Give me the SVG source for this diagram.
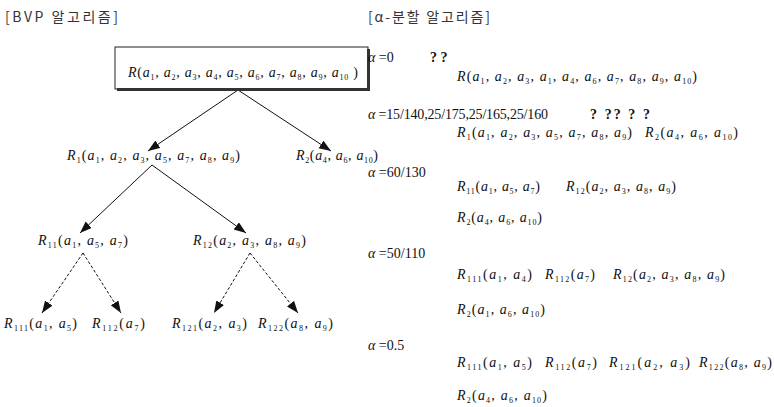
<svg xmlns="http://www.w3.org/2000/svg" width="774" height="407" viewBox="0 0 774 407">
<style>
.k{font-family:"Noto Sans CJK KR","Noto Sans",sans-serif;font-size:14px;fill:#333}
.m{font-family:"Liberation Serif",serif;font-style:italic;font-size:14px;fill:#111}
.s{font-size:8px;font-style:normal;baseline-shift:-3px}
.u{font-style:normal}
.g{font-family:"Liberation Serif",serif;font-size:14px;fill:#111}
.c{stroke:#111;stroke-width:1;fill:none}
.d{stroke:#111;stroke-width:1;fill:none;stroke-dasharray:3,2}
</style>
<defs>
<marker id="ah" markerUnits="userSpaceOnUse" markerWidth="13" markerHeight="10" refX="12" refY="4.5" orient="auto">
<path d="M0,0 L12,4.5 L0,9 z" fill="#111"/>
</marker>
</defs>
<rect width="774" height="407" fill="#fff"/>

<text class="k" x="5" y="22" textLength="113" lengthAdjust="spacing">[BVP 알고리즘]</text>
<text class="k" x="368" y="22" textLength="122" lengthAdjust="spacing">[α-분할 알고리즘]</text>

<g id="connectors">
<line class="c" x1="238" y1="90" x2="148" y2="151" marker-end="url(#ah)"/>
<line class="c" x1="238" y1="90" x2="331" y2="151" marker-end="url(#ah)"/>
<line class="c" x1="152" y1="165" x2="80" y2="233" marker-end="url(#ah)"/>
<line class="c" x1="152" y1="165" x2="246" y2="233" marker-end="url(#ah)"/>
<line class="d" x1="83" y1="253" x2="42" y2="313" marker-end="url(#ah)"/>
<line class="d" x1="83" y1="253" x2="121" y2="313" marker-end="url(#ah)"/>
<line class="d" x1="250" y1="253" x2="214" y2="313" marker-end="url(#ah)"/>
<line class="d" x1="250" y1="253" x2="298" y2="313" marker-end="url(#ah)"/>
</g>

<g id="root">
<rect x="115" y="47" width="253" height="42" fill="#fff" stroke="#222" stroke-width="1"/>
<rect x="117" y="88" width="253" height="3" fill="#333"/>
<rect x="367" y="49" width="3" height="42" fill="#333"/>
<text class="m" x="128" y="77" textLength="230" lengthAdjust="spacing">R<tspan class="u">(</tspan>a<tspan class="s">1</tspan><tspan class="u">, </tspan>a<tspan class="s">2</tspan><tspan class="u">, </tspan>a<tspan class="s">3</tspan><tspan class="u">, </tspan>a<tspan class="s">4</tspan><tspan class="u">, </tspan>a<tspan class="s">5</tspan><tspan class="u">, </tspan>a<tspan class="s">6</tspan><tspan class="u">, </tspan>a<tspan class="s">7</tspan><tspan class="u">, </tspan>a<tspan class="s">8</tspan><tspan class="u">, </tspan>a<tspan class="s">9</tspan><tspan class="u">, </tspan>a<tspan class="s">10</tspan><tspan class="u"> )</tspan></text>
</g>

<g id="r1">
<text class="m" x="67" y="160" textLength="173" lengthAdjust="spacing">R<tspan class="s">1</tspan><tspan class="u">(</tspan>a<tspan class="s">1</tspan><tspan class="u">, </tspan>a<tspan class="s">2</tspan><tspan class="u">, </tspan>a<tspan class="s">3</tspan><tspan class="u">, </tspan>a<tspan class="s">5</tspan><tspan class="u">, </tspan>a<tspan class="s">7</tspan><tspan class="u">, </tspan>a<tspan class="s">8</tspan><tspan class="u">, </tspan>a<tspan class="s">9</tspan><tspan class="u">)</tspan></text>
</g>
<g id="r2">
<text class="m" x="296" y="160" textLength="82" lengthAdjust="spacing">R<tspan class="s">2</tspan><tspan class="u">(</tspan>a<tspan class="s">4</tspan><tspan class="u">, </tspan>a<tspan class="s">6</tspan><tspan class="u">, </tspan>a<tspan class="s">10</tspan><tspan class="u">)</tspan></text>
</g>
<g id="r11">
<text class="m" x="38" y="245" textLength="90" lengthAdjust="spacing">R<tspan class="s">11</tspan><tspan class="u">(</tspan>a<tspan class="s">1</tspan><tspan class="u">, </tspan>a<tspan class="s">5</tspan><tspan class="u">, </tspan>a<tspan class="s">7</tspan><tspan class="u">)</tspan></text>
</g>
<g id="r12">
<text class="m" x="193" y="245" textLength="113" lengthAdjust="spacing">R<tspan class="s">12</tspan><tspan class="u">(</tspan>a<tspan class="s">2</tspan><tspan class="u">, </tspan>a<tspan class="s">3</tspan><tspan class="u">, </tspan>a<tspan class="s">8</tspan><tspan class="u">, </tspan>a<tspan class="s">9</tspan><tspan class="u">)</tspan></text>
</g>
<g id="r111">
<text class="m" x="4" y="328" textLength="73" lengthAdjust="spacing">R<tspan class="s">111</tspan><tspan class="u">(</tspan>a<tspan class="s">1</tspan><tspan class="u">, </tspan>a<tspan class="s">5</tspan><tspan class="u">)</tspan></text>
</g>
<g id="r112">
<text class="m" x="92" y="328" textLength="53" lengthAdjust="spacing">R<tspan class="s">112</tspan><tspan class="u">(</tspan>a<tspan class="s">7</tspan><tspan class="u">)</tspan></text>
</g>
<g id="r121">
<text class="m" x="172" y="328" textLength="75" lengthAdjust="spacing">R<tspan class="s">121</tspan><tspan class="u">(</tspan>a<tspan class="s">2</tspan><tspan class="u">, </tspan>a<tspan class="s">3</tspan><tspan class="u">)</tspan></text>
</g>
<g id="r122">
<text class="m" x="258" y="328" textLength="75" lengthAdjust="spacing">R<tspan class="s">122</tspan><tspan class="u">(</tspan>a<tspan class="s">8</tspan><tspan class="u">, </tspan>a<tspan class="s">9</tspan><tspan class="u">)</tspan></text>
</g>

<g id="alpha-panel">
<text class="g" x="368" y="62"><tspan font-style="italic">α</tspan> =0</text>
<text class="g" x="430" y="62" font-weight="bold" font-size="13">? ?</text>
<text class="m" x="457" y="81" textLength="240" lengthAdjust="spacing">R<tspan class="u">(</tspan>a<tspan class="s">1</tspan><tspan class="u">, </tspan>a<tspan class="s">2</tspan><tspan class="u">, </tspan>a<tspan class="s">3</tspan><tspan class="u">, </tspan>a<tspan class="s">1</tspan><tspan class="u">, </tspan>a<tspan class="s">4</tspan><tspan class="u">, </tspan>a<tspan class="s">6</tspan><tspan class="u">, </tspan>a<tspan class="s">7</tspan><tspan class="u">, </tspan>a<tspan class="s">8</tspan><tspan class="u">, </tspan>a<tspan class="s">9</tspan><tspan class="u">, </tspan>a<tspan class="s">10</tspan><tspan class="u">)</tspan></text>

<text class="g" x="368" y="119" textLength="180" lengthAdjust="spacing"><tspan font-style="italic">α</tspan> =15/140,25/175,25/165,25/160</text>
<text class="g" x="590" y="119" font-weight="bold" font-size="13" textLength="60" lengthAdjust="spacing">? ?? ? ?</text>
<text class="m" x="457" y="137" textLength="175" lengthAdjust="spacing">R<tspan class="s">1</tspan><tspan class="u">(</tspan>a<tspan class="s">1</tspan><tspan class="u">, </tspan>a<tspan class="s">2</tspan><tspan class="u">, </tspan>a<tspan class="s">3</tspan><tspan class="u">, </tspan>a<tspan class="s">5</tspan><tspan class="u">, </tspan>a<tspan class="s">7</tspan><tspan class="u">, </tspan>a<tspan class="s">8</tspan><tspan class="u">, </tspan>a<tspan class="s">9</tspan><tspan class="u">)</tspan></text>
<text class="m" x="645" y="137" textLength="93" lengthAdjust="spacing">R<tspan class="s">2</tspan><tspan class="u">(</tspan>a<tspan class="s">4</tspan><tspan class="u">, </tspan>a<tspan class="s">6</tspan><tspan class="u">, </tspan>a<tspan class="s">10</tspan><tspan class="u">)</tspan></text>

<text class="g" x="368" y="177"><tspan font-style="italic">α</tspan> =60/130</text>
<text class="m" x="457" y="191" textLength="83" lengthAdjust="spacing">R<tspan class="s">11</tspan><tspan class="u">(</tspan>a<tspan class="s">1</tspan><tspan class="u">, </tspan>a<tspan class="s">5</tspan><tspan class="u">, </tspan>a<tspan class="s">7</tspan><tspan class="u">)</tspan></text>
<text class="m" x="566" y="191" textLength="110" lengthAdjust="spacing">R<tspan class="s">12</tspan><tspan class="u">(</tspan>a<tspan class="s">2</tspan><tspan class="u">, </tspan>a<tspan class="s">3</tspan><tspan class="u">, </tspan>a<tspan class="s">8</tspan><tspan class="u">, </tspan>a<tspan class="s">9</tspan><tspan class="u">)</tspan></text>
<text class="m" x="457" y="222" textLength="85" lengthAdjust="spacing">R<tspan class="s">2</tspan><tspan class="u">(</tspan>a<tspan class="s">4</tspan><tspan class="u">, </tspan>a<tspan class="s">6</tspan><tspan class="u">, </tspan>a<tspan class="s">10</tspan><tspan class="u">)</tspan></text>

<text class="g" x="368" y="258"><tspan font-style="italic">α</tspan> =50/110</text>
<text class="m" x="457" y="279" textLength="75" lengthAdjust="spacing">R<tspan class="s">111</tspan><tspan class="u">(</tspan>a<tspan class="s">1</tspan><tspan class="u">, </tspan>a<tspan class="s">4</tspan><tspan class="u">)</tspan></text>
<text class="m" x="545" y="279" textLength="50" lengthAdjust="spacing">R<tspan class="s">112</tspan><tspan class="u">(</tspan>a<tspan class="s">7</tspan><tspan class="u">)</tspan></text>
<text class="m" x="613" y="279" textLength="112" lengthAdjust="spacing">R<tspan class="s">12</tspan><tspan class="u">(</tspan>a<tspan class="s">2</tspan><tspan class="u">, </tspan>a<tspan class="s">3</tspan><tspan class="u">, </tspan>a<tspan class="s">8</tspan><tspan class="u">, </tspan>a<tspan class="s">9</tspan><tspan class="u">)</tspan></text>
<text class="m" x="457" y="314" textLength="88" lengthAdjust="spacing">R<tspan class="s">2</tspan><tspan class="u">(</tspan>a<tspan class="s">1</tspan><tspan class="u">, </tspan>a<tspan class="s">6</tspan><tspan class="u">, </tspan>a<tspan class="s">10</tspan><tspan class="u">)</tspan></text>

<text class="g" x="368" y="350"><tspan font-style="italic">α</tspan> =0.5</text>
<text class="m" x="457" y="367" textLength="75" lengthAdjust="spacing">R<tspan class="s">111</tspan><tspan class="u">(</tspan>a<tspan class="s">1</tspan><tspan class="u">, </tspan>a<tspan class="s">5</tspan><tspan class="u">)</tspan></text>
<text class="m" x="545" y="367" textLength="52" lengthAdjust="spacing">R<tspan class="s">112</tspan><tspan class="u">(</tspan>a<tspan class="s">7</tspan><tspan class="u">)</tspan></text>
<text class="m" x="609" y="367" textLength="81" lengthAdjust="spacing">R<tspan class="s">121</tspan><tspan class="u">(</tspan>a<tspan class="s">2</tspan><tspan class="u">, </tspan>a<tspan class="s">3</tspan><tspan class="u">)</tspan></text>
<text class="m" x="699" y="367" textLength="73" lengthAdjust="spacing">R<tspan class="s">122</tspan><tspan class="u">(</tspan>a<tspan class="s">8</tspan><tspan class="u">, </tspan>a<tspan class="s">9</tspan><tspan class="u">)</tspan></text>
<text class="m" x="457" y="400" textLength="90" lengthAdjust="spacing">R<tspan class="s">2</tspan><tspan class="u">(</tspan>a<tspan class="s">4</tspan><tspan class="u">, </tspan>a<tspan class="s">6</tspan><tspan class="u">, </tspan>a<tspan class="s">10</tspan><tspan class="u">)</tspan></text>
</g>
</svg>
